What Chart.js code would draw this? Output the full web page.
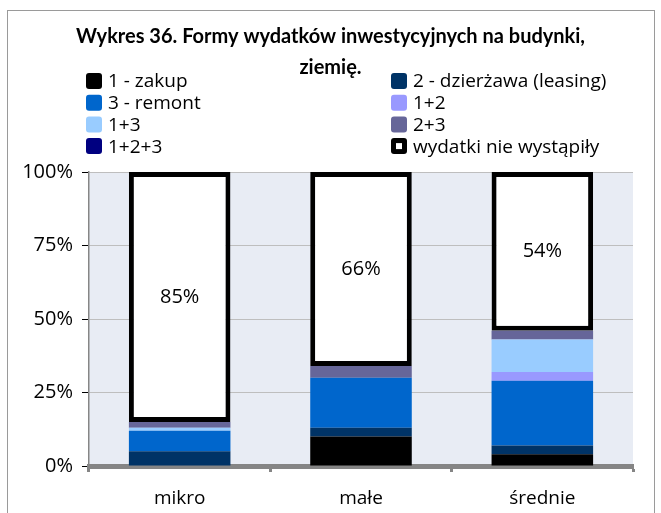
<!DOCTYPE html>
<html>
<head>
<meta charset="utf-8">
<script src="https://cdn.jsdelivr.net/npm/chart.js@4.4.1/dist/chart.umd.min.js"></script>
<style>
  html, body { margin: 0; padding: 0; background: #fff; }
  .wrap { width: 661px; height: 513px; position: relative; }
</style>
</head>
<body>
<div class="wrap"><canvas id="wydatki"></canvas></div>
<script>
// kategorie przedsiębiorstw
const categories = ['mikro', 'małe', 'średnie'];

// udział form wydatków (%)
const zakup = [0, 10, 4];            // 1 - zakup
const dzierzawa = [5, 3, 3];         // 2 - dzierżawa (leasing)
const remont = [7, 17, 22];          // 3 - remont
const zakupDzierzawa = [0, 0, 3];    // 1+2
const zakupRemont = [1, 0, 11];      // 1+3
const dzierzawaRemont = [2, 4, 3];   // 2+3
const wszystkie = [0, 0, 0];         // 1+2+3
const brakWydatkow = [85, 66, 54];   // wydatki nie wystąpiły

const yTicks = [0, 25, 50, 75, 100];

const FONT = "'Open Sans', sans-serif";

// ramka wykresu i tło obszaru danych
const chartFrame = {
    id: 'chartFrame',
    afterLayout(chart) {
        // tytuł wyśrodkowany względem ramki, a nie całego płótna
        if (chart.titleBlock) chart.titleBlock.left = 28;
    },
    beforeDraw(chart) {
        const c = chart.ctx;
        const a = chart.chartArea;
        c.save();
        c.fillStyle = '#E8ECF4';
        c.fillRect(a.left, a.top, a.right - a.left, a.bottom - a.top);
        c.strokeStyle = '#9a9a9a';
        c.lineWidth = 1;
        c.strokeRect(7.5, 10.5, 647, 520);
        c.restore();
    }
};

// wartości w białych słupkach
const barValues = {
    id: 'barValues',
    afterDatasetsDraw(chart) {
        const c = chart.ctx;
        const last = chart.data.datasets.length - 1;
        const meta = chart.getDatasetMeta(last);
        c.save();
        c.fillStyle = '#000';
        c.font = '20px ' + FONT;
        c.textAlign = 'center';
        c.textBaseline = 'middle';
        meta.data.forEach((bar, i) => {
            c.fillText(chart.data.datasets[last].data[i] + '%', bar.x, (bar.y + bar.base) / 2);
        });
        c.restore();
    }
};

// legenda w dwóch kolumnach
const twoColLegend = {
    id: 'twoColLegend',
    afterDraw(chart) {
        const c = chart.ctx;
        const sets = chart.data.datasets;
        c.save();
        c.font = '19px ' + FONT;
        c.textBaseline = 'middle';
        c.textAlign = 'left';
        sets.forEach((ds, i) => {
            const x = i % 2 === 0 ? 86 : 391;
            const y = 81 + Math.floor(i / 2) * 21.7;
            c.beginPath();
            c.roundRect(x, y - 8, 16, 16, 3);
            if (ds.borderWidth > 1) {
                c.fillStyle = '#000';
                c.fill();
                c.fillStyle = '#fff';
                c.fillRect(x + 5, y - 3, 6, 6);
            } else {
                c.fillStyle = ds.backgroundColor;
                c.fill();
            }
            c.fillStyle = '#000';
            c.fillText(ds.label, x + 22, y + 1);
        });
        c.restore();
    }
};

function series(label, data, color) {
    return {
        label: label,
        data: data,
        backgroundColor: color,
        borderWidth: 0,
        barPercentage: 0.56,
        categoryPercentage: 1
    };
}

const datasets = [
    series('1 - zakup', zakup, '#000000'),
    series('2 - dzierżawa (leasing)', dzierzawa, '#003366'),
    series('3 - remont', remont, '#0066CC'),
    series('1+2', zakupDzierzawa, '#9999FF'),
    series('1+3', zakupRemont, '#99CCFF'),
    series('2+3', dzierzawaRemont, '#666699'),
    series('1+2+3', wszystkie, '#000080'),
    Object.assign(series('wydatki nie wystąpiły', brakWydatkow, '#FFFFFF'), {
        borderColor: '#000000',
        borderWidth: 5,
        borderSkipped: false
    })
];

new Chart(document.getElementById('wydatki'), {
    type: 'bar',
    data: {
        labels: categories,
        datasets: datasets
    },
    plugins: [chartFrame, barValues, twoColLegend],
    options: {
        responsive: true,
        maintainAspectRatio: false,
        animation: false,
        layout: {
            padding: { top: 0, left: 0, right: 28, bottom: 0 }
        },
        scales: {
            x: {
                stacked: true,
                afterFit(scale) { scale.height = 47; },
                border: { display: true, color: '#858585', width: 5 },
                grid: {
                    drawOnChartArea: false,
                    drawTicks: true,
                    tickLength: 6,
                    tickWidth: 3,
                    tickColor: '#858585'
                },
                ticks: {
                    color: '#000',
                    padding: 15,
                    font: { family: FONT, size: 19 }
                }
            },
            y: {
                stacked: true,
                min: 0,
                max: 100,
                afterFit(scale) { scale.width = 89; },
                afterBuildTicks(scale) {
                    scale.ticks = yTicks.map(v => ({ value: v }));
                },
                border: { display: true, color: '#868686', width: 1.5 },
                grid: {
                    color: '#BEBEBE',
                    lineWidth: 1,
                    drawTicks: true,
                    tickLength: 7,
                    tickColor: '#000'
                },
                ticks: {
                    color: '#000',
                    padding: 9,
                    font: { family: FONT, size: 20 },
                    callback: v => v + '%'
                }
            }
        },
        plugins: {
            legend: { display: false },
            tooltip: { enabled: false },
            title: {
                display: true,
                text: ['Wykres 36. Formy wydatków inwestycyjnych na budynki,', 'ziemię.'],
                color: '#000',
                font: { family: 'Lato', size: 20, weight: 'bold', lineHeight: 31 / 20 },
                padding: { top: 21.5, bottom: 88.5 }
            }
        }
    }
});
</script>
</body>
</html>
